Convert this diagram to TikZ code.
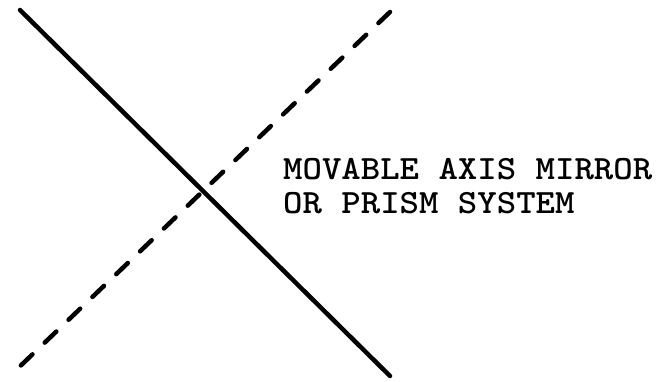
\documentclass[tikz,border=0pt]{standalone}
\usepackage{fontspec}
\usepackage{graphicx}
\usepackage{tikz}
\usetikzlibrary{positioning}

\newcommand{\widetype}[1]{\scalebox{1.088}[1]{#1}}

\begin{document}
\begin{tikzpicture}[x=1pt, y=-1pt]
    \tikzset{
        mirror line/.style={line width=4.5pt, line cap=round, black},
        axis line/.style={mirror line, dash pattern=on 16pt off 17pt},
        caption/.style={font=\ttfamily\bfseries\fontsize{34}{33}\selectfont, inner sep=0pt, align=left, anchor=base west}
    }
    \useasboundingbox (0,0) rectangle (658,382);

    \coordinate (solid top) at (20,10);
    \coordinate (solid bottom) at (390,376);
    \coordinate (dash top) at (390,12);
    \coordinate (dash bottom) at (13,373);

    % Fixed mirror
    \draw[mirror line] (solid top) -- (solid bottom);
    % Movable axis
    \draw[axis line] (dash top) -- (dash bottom);

    \node[caption] (label) at (283,213) {\widetype{MOVABLE AXIS MIRROR}\\\widetype{OR PRISM SYSTEM}};
\end{tikzpicture}
\end{document}
